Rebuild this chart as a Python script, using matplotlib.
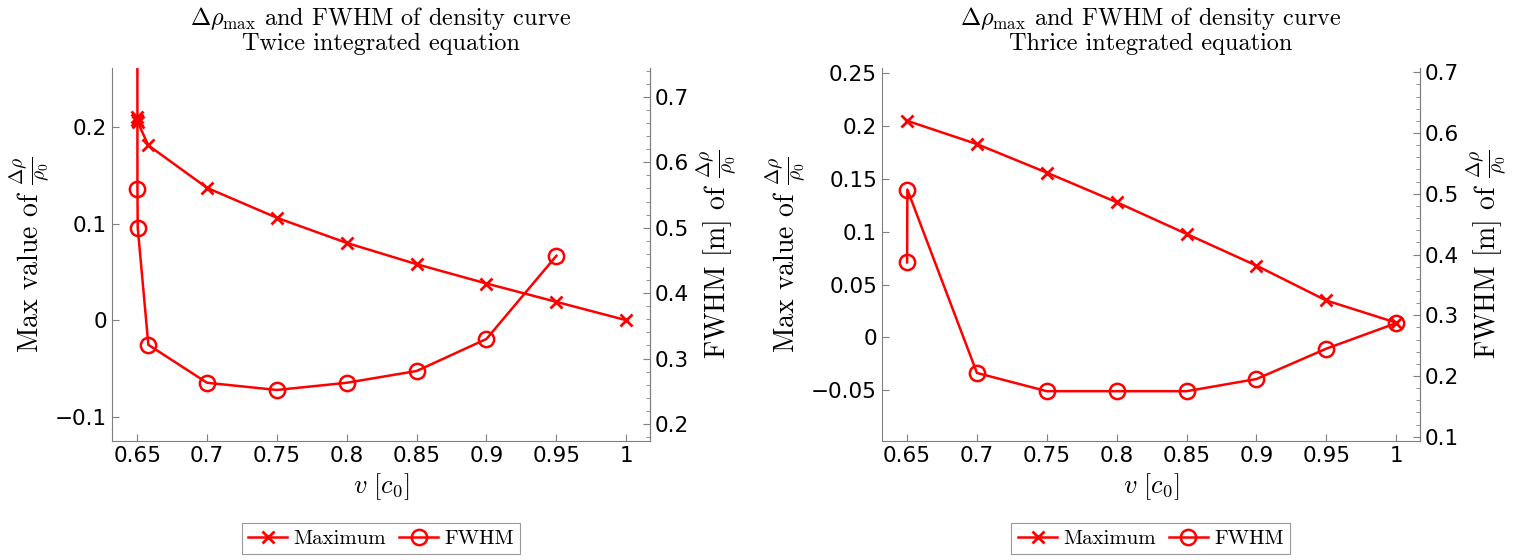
import numpy as np
import matplotlib
matplotlib.use("Agg")
import matplotlib.pyplot as plt
from matplotlib.ticker import FuncFormatter, AutoMinorLocator, MultipleLocator

plt.rcParams['mathtext.fontset'] = 'cm'
plt.rcParams['axes.unicode_minus'] = False

# twice integrated equation
v_twice = [0.65, 0.6502, 0.6504, 0.658, 0.70, 0.75, 0.80, 0.85, 0.90, 0.95, 1.00]
max_twice = [0.210, 0.207, 0.205, 0.181, 0.137, 0.106, 0.080, 0.058, 0.038, 0.019, 0.000]
fwhm_twice = [1.50, 0.559, 0.500, 0.321, 0.263, 0.252, 0.263, 0.281, 0.330, 0.457, np.nan]

# thrice integrated equation
v_thrice = [0.65, 0.6502, 0.70, 0.75, 0.80, 0.85, 0.90, 0.95, 1.00]
max_thrice = [np.nan, 0.205, 0.183, 0.156, 0.128, 0.098, 0.068, 0.035, 0.014]
fwhm_thrice = [0.387, 0.507, 0.205, 0.175, 0.175, 0.175, 0.195, 0.245, 0.287]

xticks = [0.65, 0.7, 0.75, 0.8, 0.85, 0.9, 0.95, 1.0]

SPINE = '#7f7f7f'
RED = '#ff0000'
CM = 'cmr10'
fmt = FuncFormatter(lambda x, p: ('%g' % round(x, 4)).replace('-', '\u2212'))

fig = plt.figure(figsize=(15.24, 5.6), dpi=100)


def style(ax):
    ax.spines['top'].set_visible(False)
    for s in ['left', 'right', 'bottom']:
        ax.spines[s].set_color(SPINE)
    ax.tick_params(direction='in', colors=SPINE, labelcolor='black',
                   labelsize=15.5, length=5)
    ax.tick_params(which='minor', direction='in', colors=SPINE, length=3)
    ax.yaxis.set_major_formatter(fmt)


def panel(rect, v, ymax, yfwhm, subtitle, ylim, ytick_step, ylim2, yticks2):
    ax = fig.add_axes(rect)
    ax2 = ax.twinx()
    l1, = ax.plot(v, ymax, color=RED, lw=1.8, marker='x', ms=8, mew=2,
                  label='Maximum')
    l2, = ax2.plot(v, yfwhm, color=RED, lw=1.8, marker='o', ms=11, mew=1.8,
                   mfc='none', label='FWHM')
    ax.set_xlim(0.632, 1.017)
    ax.set_xticks(xticks)
    ax.xaxis.set_major_formatter(fmt)
    ax.set_ylim(*ylim)
    ax.yaxis.set_major_locator(MultipleLocator(ytick_step))
    ax2.set_ylim(*ylim2)
    ax2.set_yticks(yticks2)
    ax2.yaxis.set_minor_locator(AutoMinorLocator(5))
    style(ax)
    style(ax2)
    ax2.spines['left'].set_visible(False)
    ax2.spines['bottom'].set_visible(False)
    ax.set_title(r'$\Delta\rho_{\max}$ and FWHM of density curve' + '\n' + subtitle,
                 fontsize=17.5, family=CM, linespacing=1.05, pad=13)
    ax.set_xlabel(r'$v\ [c_0]$', fontsize=19, labelpad=4)
    ax.set_ylabel(r'Max value of $\frac{\Delta\rho}{\rho_0}$', fontsize=20,
                  family=CM, labelpad=2)
    ax2.set_ylabel(r'FWHM $[\mathrm{m}]$ of $\frac{\Delta\rho}{\rho_0}$',
                   fontsize=20, family=CM, labelpad=4)
    leg = ax.legend(handles=[l1, l2], loc='center', ncol=2,
                    bbox_to_anchor=(0.5, -0.262),
                    prop={'family': CM, 'size': 15}, fancybox=False,
                    edgecolor=SPINE, handlelength=1.9, handletextpad=0.3,
                    columnspacing=0.6, borderpad=0.3)
    leg.get_frame().set_linewidth(0.8)
    return ax, ax2


panel([0.0735, 0.2125, 0.353, 0.666], v_twice, max_twice, fwhm_twice,
      'Twice integrated equation', (-0.125, 0.261), 0.1,
      (0.174, 0.744), [0.2, 0.3, 0.4, 0.5, 0.6, 0.7])
panel([0.5787, 0.2125, 0.353, 0.666], v_thrice, max_thrice, fwhm_thrice,
      'Thrice integrated equation', (-0.098, 0.255), 0.05,
      (0.093, 0.707), [0.1, 0.2, 0.3, 0.4, 0.5, 0.6, 0.7])

fig.savefig('out.png', dpi=100)
